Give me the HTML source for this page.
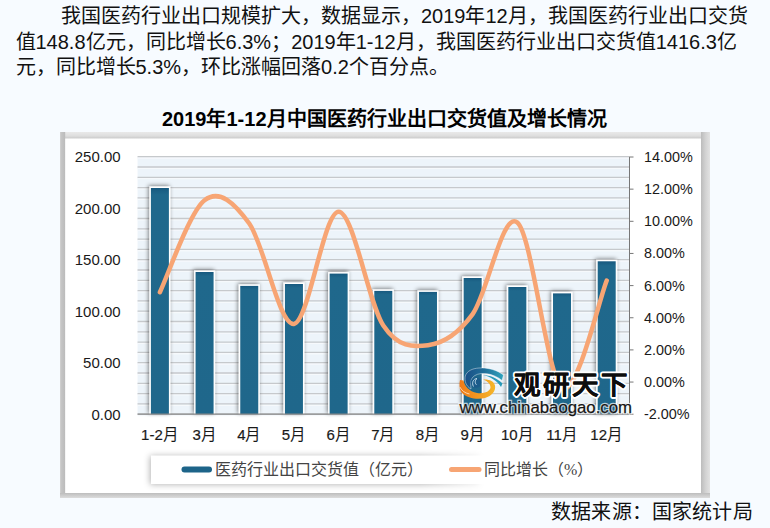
<!DOCTYPE html>
<html lang="zh-CN"><head><meta charset="utf-8">
<style>
html,body{margin:0;padding:0}
body{width:770px;height:528px;overflow:hidden;background:#f7fbff;position:relative;font-family:"Liberation Sans",sans-serif;color:#111}
.p{position:absolute;font-size:20px;line-height:26px;white-space:nowrap}
.t{position:absolute;font-size:20px;font-weight:bold;white-space:nowrap;line-height:26px;color:#000}
.src{position:absolute;font-size:20px;white-space:nowrap;line-height:26px}
svg{position:absolute;left:0;top:0}
.g{stroke:#c6c9cc;stroke-width:1.3}
.ax text{font-family:"Liberation Sans",sans-serif;font-size:14px;fill:#1a1a1a}
.lg{font-family:"Liberation Serif",serif;font-size:16px;fill:#444}
</style></head><body>
<div class="p" style="left:61px;top:3px">我国医药行业出口规模扩大，数据显示，2019年12月，我国医药行业出口交货</div>
<div class="p" style="left:15.5px;top:28.5px">值148.8亿元，同比增长6.3%；2019年1-12月，我国医药行业出口交货值1416.3亿</div>
<div class="p" style="left:15.5px;top:54px">元，同比增长5.3%，环比涨幅回落0.2个百分点。</div>
<div class="t" style="left:162px;top:105.8px">2019年1-12月中国医药行业出口交货值及增长情况</div>
<svg width="770" height="528" viewBox="0 0 770 528">
<defs>
<filter id="sh" x="-50%" y="-50%" width="200%" height="200%"><feGaussianBlur in="SourceAlpha" stdDeviation="2"/><feOffset dx="-1" dy="-1"/><feComponentTransfer><feFuncA type="linear" slope="0.5"/></feComponentTransfer><feMerge><feMergeNode/><feMergeNode in="SourceGraphic"/></feMerge></filter>
<filter id="fs" x="-5%" y="-5%" width="110%" height="110%"><feGaussianBlur in="SourceAlpha" stdDeviation="2.2"/><feComponentTransfer><feFuncA type="linear" slope="0.45"/></feComponentTransfer><feMerge><feMergeNode/><feMergeNode in="SourceGraphic"/></feMerge></filter>
<filter id="ls" x="-10%" y="-60%" width="120%" height="220%"><feGaussianBlur in="SourceAlpha" stdDeviation="3.5"/><feOffset dx="-1" dy="0.5"/><feComponentTransfer><feFuncA type="linear" slope="0.32"/></feComponentTransfer><feMerge><feMergeNode/><feMergeNode in="SourceGraphic"/></feMerge></filter>
<linearGradient id="bg" x1="0" y1="0" x2="0" y2="1"><stop offset="0" stop-color="#17597f"/><stop offset="0.03" stop-color="#1f688c"/><stop offset="1" stop-color="#1f678b"/></linearGradient>
<linearGradient id="lb" x1="0" y1="0" x2="1" y2="0"><stop offset="0" stop-color="#1a4f86"/><stop offset="0.5" stop-color="#1f6f9a"/><stop offset="1" stop-color="#2fa3bd"/></linearGradient>
<linearGradient id="lo" x1="0" y1="0" x2="1" y2="0"><stop offset="0" stop-color="#f07a18"/><stop offset="1" stop-color="#f5b62a"/></linearGradient>
<filter id="lb2" x="-10%" y="-60%" width="120%" height="220%"><feGaussianBlur stdDeviation="3.2"/></filter>
<linearGradient id="lmg" gradientUnits="userSpaceOnUse" x1="420" y1="0" x2="495" y2="0"><stop offset="0" stop-color="#fff"/><stop offset="1" stop-color="#000"/></linearGradient>
<mask id="lm" maskUnits="userSpaceOnUse" x="0" y="0" width="770" height="528"><rect x="0" y="0" width="770" height="528" fill="url(#lmg)"/></mask>
<linearGradient id="ft" x1="0" y1="0" x2="0" y2="1"><stop offset="0" stop-color="#e9e9e9"/><stop offset="0.6" stop-color="#dedede"/><stop offset="1" stop-color="#c9c9c9"/></linearGradient>
<linearGradient id="fl" x1="0" y1="0" x2="1" y2="0"><stop offset="0" stop-color="#d6d6d6"/><stop offset="0.2" stop-color="#c6c6c6"/><stop offset="1" stop-color="#bbbbbb"/></linearGradient>
<linearGradient id="fr2" x1="0" y1="0" x2="1" y2="0"><stop offset="0" stop-color="#bcbcbc"/><stop offset="0.5" stop-color="#d2d2d2"/><stop offset="1" stop-color="#e2e2e2"/></linearGradient>
<linearGradient id="fb" x1="0" y1="0" x2="0" y2="1"><stop offset="0" stop-color="#bdbdbd"/><stop offset="1" stop-color="#dcdcdc"/></linearGradient>
</defs>
<rect x="60" y="132" width="650" height="366" fill="#d2d2d2"/>
<rect x="60" y="132" width="650" height="6.5" fill="url(#ft)"/>
<rect x="60" y="132" width="5.2" height="366" fill="url(#fl)"/>
<rect x="701" y="132" width="9" height="366" fill="url(#fr2)"/>
<rect x="60" y="493" width="650" height="5" fill="url(#fb)"/>
<rect x="65.2" y="138.5" width="635.8" height="354.5" fill="#fff"/>
<rect x="137.56" y="156.7" width="491.48" height="257.50" fill="#edf4fa"/>
<line x1="137.56" x2="629.04" y1="415.50" y2="415.50" stroke="#f6f9fc" stroke-width="1.4"/><line x1="137.56" x2="629.04" y1="414.20" y2="414.20" class="g"/><line x1="137.56" x2="629.04" y1="405.20" y2="405.20" stroke="#f6f9fc" stroke-width="1.4"/><line x1="137.56" x2="629.04" y1="403.90" y2="403.90" class="g"/><line x1="137.56" x2="629.04" y1="394.90" y2="394.90" stroke="#f6f9fc" stroke-width="1.4"/><line x1="137.56" x2="629.04" y1="393.60" y2="393.60" class="g"/><line x1="137.56" x2="629.04" y1="384.60" y2="384.60" stroke="#f6f9fc" stroke-width="1.4"/><line x1="137.56" x2="629.04" y1="383.30" y2="383.30" class="g"/><line x1="137.56" x2="629.04" y1="374.30" y2="374.30" stroke="#f6f9fc" stroke-width="1.4"/><line x1="137.56" x2="629.04" y1="373.00" y2="373.00" class="g"/><line x1="137.56" x2="629.04" y1="364.00" y2="364.00" stroke="#f6f9fc" stroke-width="1.4"/><line x1="137.56" x2="629.04" y1="362.70" y2="362.70" class="g"/><line x1="137.56" x2="629.04" y1="353.70" y2="353.70" stroke="#f6f9fc" stroke-width="1.4"/><line x1="137.56" x2="629.04" y1="352.40" y2="352.40" class="g"/><line x1="137.56" x2="629.04" y1="343.40" y2="343.40" stroke="#f6f9fc" stroke-width="1.4"/><line x1="137.56" x2="629.04" y1="342.10" y2="342.10" class="g"/><line x1="137.56" x2="629.04" y1="333.10" y2="333.10" stroke="#f6f9fc" stroke-width="1.4"/><line x1="137.56" x2="629.04" y1="331.80" y2="331.80" class="g"/><line x1="137.56" x2="629.04" y1="322.80" y2="322.80" stroke="#f6f9fc" stroke-width="1.4"/><line x1="137.56" x2="629.04" y1="321.50" y2="321.50" class="g"/><line x1="137.56" x2="629.04" y1="312.50" y2="312.50" stroke="#f6f9fc" stroke-width="1.4"/><line x1="137.56" x2="629.04" y1="311.20" y2="311.20" class="g"/><line x1="137.56" x2="629.04" y1="302.20" y2="302.20" stroke="#f6f9fc" stroke-width="1.4"/><line x1="137.56" x2="629.04" y1="300.90" y2="300.90" class="g"/><line x1="137.56" x2="629.04" y1="291.90" y2="291.90" stroke="#f6f9fc" stroke-width="1.4"/><line x1="137.56" x2="629.04" y1="290.60" y2="290.60" class="g"/><line x1="137.56" x2="629.04" y1="281.60" y2="281.60" stroke="#f6f9fc" stroke-width="1.4"/><line x1="137.56" x2="629.04" y1="280.30" y2="280.30" class="g"/><line x1="137.56" x2="629.04" y1="271.30" y2="271.30" stroke="#f6f9fc" stroke-width="1.4"/><line x1="137.56" x2="629.04" y1="270.00" y2="270.00" class="g"/><line x1="137.56" x2="629.04" y1="261.00" y2="261.00" stroke="#f6f9fc" stroke-width="1.4"/><line x1="137.56" x2="629.04" y1="259.70" y2="259.70" class="g"/><line x1="137.56" x2="629.04" y1="250.70" y2="250.70" stroke="#f6f9fc" stroke-width="1.4"/><line x1="137.56" x2="629.04" y1="249.40" y2="249.40" class="g"/><line x1="137.56" x2="629.04" y1="240.40" y2="240.40" stroke="#f6f9fc" stroke-width="1.4"/><line x1="137.56" x2="629.04" y1="239.10" y2="239.10" class="g"/><line x1="137.56" x2="629.04" y1="230.10" y2="230.10" stroke="#f6f9fc" stroke-width="1.4"/><line x1="137.56" x2="629.04" y1="228.80" y2="228.80" class="g"/><line x1="137.56" x2="629.04" y1="219.80" y2="219.80" stroke="#f6f9fc" stroke-width="1.4"/><line x1="137.56" x2="629.04" y1="218.50" y2="218.50" class="g"/><line x1="137.56" x2="629.04" y1="209.50" y2="209.50" stroke="#f6f9fc" stroke-width="1.4"/><line x1="137.56" x2="629.04" y1="208.20" y2="208.20" class="g"/><line x1="137.56" x2="629.04" y1="199.20" y2="199.20" stroke="#f6f9fc" stroke-width="1.4"/><line x1="137.56" x2="629.04" y1="197.90" y2="197.90" class="g"/><line x1="137.56" x2="629.04" y1="188.90" y2="188.90" stroke="#f6f9fc" stroke-width="1.4"/><line x1="137.56" x2="629.04" y1="187.60" y2="187.60" class="g"/><line x1="137.56" x2="629.04" y1="178.60" y2="178.60" stroke="#f6f9fc" stroke-width="1.4"/><line x1="137.56" x2="629.04" y1="177.30" y2="177.30" class="g"/><line x1="137.56" x2="629.04" y1="168.30" y2="168.30" stroke="#f6f9fc" stroke-width="1.4"/><line x1="137.56" x2="629.04" y1="167.00" y2="167.00" class="g"/><line x1="137.56" x2="629.04" y1="158.00" y2="158.00" stroke="#f6f9fc" stroke-width="1.4"/><line x1="137.56" x2="629.04" y1="156.70" y2="156.70" class="g"/>
<rect x="149.40" y="186.50" width="21.00" height="227.70" fill="#fff" filter="url(#sh)"/><rect x="150.90" y="188.00" width="18.00" height="226.20" fill="url(#bg)"/><rect x="194.08" y="270.50" width="21.00" height="143.70" fill="#fff" filter="url(#sh)"/><rect x="195.58" y="272.00" width="18.00" height="142.20" fill="url(#bg)"/><rect x="238.76" y="284.40" width="21.00" height="129.80" fill="#fff" filter="url(#sh)"/><rect x="240.26" y="285.90" width="18.00" height="128.30" fill="url(#bg)"/><rect x="283.44" y="282.50" width="21.00" height="131.70" fill="#fff" filter="url(#sh)"/><rect x="284.94" y="284.00" width="18.00" height="130.20" fill="url(#bg)"/><rect x="328.12" y="272.10" width="21.00" height="142.10" fill="#fff" filter="url(#sh)"/><rect x="329.62" y="273.60" width="18.00" height="140.60" fill="url(#bg)"/><rect x="372.80" y="289.40" width="21.00" height="124.80" fill="#fff" filter="url(#sh)"/><rect x="374.30" y="290.90" width="18.00" height="123.30" fill="url(#bg)"/><rect x="417.48" y="290.40" width="21.00" height="123.80" fill="#fff" filter="url(#sh)"/><rect x="418.98" y="291.90" width="18.00" height="122.30" fill="url(#bg)"/><rect x="462.16" y="276.50" width="21.00" height="137.70" fill="#fff" filter="url(#sh)"/><rect x="463.66" y="278.00" width="18.00" height="136.20" fill="url(#bg)"/><rect x="506.84" y="285.50" width="21.00" height="128.70" fill="#fff" filter="url(#sh)"/><rect x="508.34" y="287.00" width="18.00" height="127.20" fill="url(#bg)"/><rect x="551.52" y="291.90" width="21.00" height="122.30" fill="#fff" filter="url(#sh)"/><rect x="553.02" y="293.40" width="18.00" height="120.80" fill="url(#bg)"/><rect x="596.20" y="259.80" width="21.00" height="154.40" fill="#fff" filter="url(#sh)"/><rect x="597.70" y="261.30" width="18.00" height="152.90" fill="url(#bg)"/>
<line x1="137.56" x2="629.04" y1="414.2" y2="414.2" stroke="#888" stroke-width="1.2"/>
<line x1="629.5" x2="629.5" y1="156.7" y2="414.2" stroke="#777" stroke-width="1"/>
<line x1="629.5" x2="633.5" y1="157.00" y2="157.00" stroke="#777" stroke-width="1"/><line x1="629.5" x2="633.5" y1="189.15" y2="189.15" stroke="#777" stroke-width="1"/><line x1="629.5" x2="633.5" y1="221.30" y2="221.30" stroke="#777" stroke-width="1"/><line x1="629.5" x2="633.5" y1="253.45" y2="253.45" stroke="#777" stroke-width="1"/><line x1="629.5" x2="633.5" y1="285.60" y2="285.60" stroke="#777" stroke-width="1"/><line x1="629.5" x2="633.5" y1="317.75" y2="317.75" stroke="#777" stroke-width="1"/><line x1="629.5" x2="633.5" y1="349.90" y2="349.90" stroke="#777" stroke-width="1"/><line x1="629.5" x2="633.5" y1="382.05" y2="382.05" stroke="#777" stroke-width="1"/><line x1="629.5" x2="633.5" y1="414.20" y2="414.20" stroke="#777" stroke-width="1"/>
<path d="M159.90,292.20 C167.35,276.87 189.69,211.65 204.58,200.20 C219.47,188.75 234.37,202.88 249.26,223.50 C264.15,244.12 279.05,325.87 293.94,323.90 C308.83,321.93 323.73,211.43 338.62,211.70 C353.51,211.97 368.41,303.25 383.30,325.50 C398.19,347.75 413.09,347.10 427.98,345.20 C442.87,343.30 457.77,334.55 472.66,314.10 C487.55,293.65 502.45,210.18 517.34,222.50 C532.23,234.82 547.13,378.32 562.02,388.00 C576.91,397.68 599.25,298.50 606.70,280.60" fill="none" stroke="#f7a574" stroke-width="4.5" stroke-linecap="round"/>
<g transform="translate(455,362)">
<path d="M48.5,13 C42,8 33,5.5 24,6 C17,6.5 12,9 10.3,14 C9.3,19 11,24 16,27 C15.5,22 15.5,18 17.5,15.5 C20,12.5 24.5,11.2 30,11.5 C37,12 43,15 47,18.5 Z" fill="url(#lb)" stroke="#fff" stroke-width="0.6" stroke-opacity="0.7"/>
<path d="M46,25 C42,19 36,14.8 28,13 C35,13.2 42,16 47.5,21.5 Z" fill="#2a9ab9"/>
<circle cx="21" cy="20.5" r="5.2" fill="#1b5b8a"/>
<path d="M18.5,24.5 C16.5,21 18,16.8 22,16.5 C20,18 19.5,21 21.5,22.8" fill="none" stroke="#cfe6f2" stroke-width="0.9"/>
<path d="M5,18 L8.5,18.5 C9.5,24 14,29.5 22,31 C29,32 35,29.5 35.5,25.5 C35.5,22 33,19.5 28,17.5 C34,17 39,19 40,23.5 C41,29 37,34 30,36 C22,38 12,36 7,31 C4.5,28 4,23 5,18 Z" fill="url(#lo)"/>
<path d="M4.8,25 C7,29 10,31 14.5,32" fill="none" stroke="#fff" stroke-width="0.8" stroke-opacity="0.8"/>
</g>
<text x="514" y="394" font-size="26.5" font-weight="900" fill="#fff" stroke="#fff" stroke-width="4" stroke-linejoin="round" letter-spacing="2.9" style="font-family:'Liberation Sans',sans-serif">观研天下</text>
<text x="514" y="394" font-size="26.5" font-weight="900" fill="#0d0d0d" stroke="#0d0d0d" stroke-width="0.25" stroke-linejoin="round" letter-spacing="2.9" style="font-family:'Liberation Sans',sans-serif">观研天下</text>
<text x="459.5" y="412.5" font-size="16.8" fill="#fff" stroke="#fff" stroke-width="2.5" stroke-opacity="0.7" style="font-family:'Liberation Sans',sans-serif">www.chinabaogao.com</text>
<text x="459.5" y="412.5" font-size="16.8" fill="#151515" stroke="#151515" stroke-width="0.25" style="font-family:'Liberation Sans',sans-serif">www.chinabaogao.com</text>
<g class="ax"><text x="120.6" y="162.0" text-anchor="end" style="font-size:15px">250.00</text><text x="120.6" y="213.5" text-anchor="end" style="font-size:15px">200.00</text><text x="120.6" y="265.1" text-anchor="end" style="font-size:15px">150.00</text><text x="120.6" y="316.6" text-anchor="end" style="font-size:15px">100.00</text><text x="120.6" y="368.1" text-anchor="end" style="font-size:15px">50.00</text><text x="120.6" y="419.6" text-anchor="end" style="font-size:15px">0.00</text><text x="644" y="162.0" style="font-size:14.4px">14.00%</text><text x="644" y="194.2" style="font-size:14.4px">12.00%</text><text x="644" y="226.3" style="font-size:14.4px">10.00%</text><text x="644" y="258.4" style="font-size:14.4px">8.00%</text><text x="644" y="290.6" style="font-size:14.4px">6.00%</text><text x="644" y="322.8" style="font-size:14.4px">4.00%</text><text x="644" y="354.9" style="font-size:14.4px">2.00%</text><text x="644" y="387.0" style="font-size:14.4px">0.00%</text><text x="644" y="419.2" style="font-size:14.4px">-2.00%</text><text x="159.9" y="440.2" text-anchor="middle" style="font-size:15.5px"><tspan style="font-size:15px" stroke="#1a1a1a" stroke-width="0.2">1-2</tspan>月</text><text x="204.6" y="440.2" text-anchor="middle" style="font-size:15.5px"><tspan style="font-size:15px" stroke="#1a1a1a" stroke-width="0.2">3</tspan>月</text><text x="249.3" y="440.2" text-anchor="middle" style="font-size:15.5px"><tspan style="font-size:15px" stroke="#1a1a1a" stroke-width="0.2">4</tspan>月</text><text x="293.9" y="440.2" text-anchor="middle" style="font-size:15.5px"><tspan style="font-size:15px" stroke="#1a1a1a" stroke-width="0.2">5</tspan>月</text><text x="338.6" y="440.2" text-anchor="middle" style="font-size:15.5px"><tspan style="font-size:15px" stroke="#1a1a1a" stroke-width="0.2">6</tspan>月</text><text x="383.3" y="440.2" text-anchor="middle" style="font-size:15.5px"><tspan style="font-size:15px" stroke="#1a1a1a" stroke-width="0.2">7</tspan>月</text><text x="428.0" y="440.2" text-anchor="middle" style="font-size:15.5px"><tspan style="font-size:15px" stroke="#1a1a1a" stroke-width="0.2">8</tspan>月</text><text x="472.7" y="440.2" text-anchor="middle" style="font-size:15.5px"><tspan style="font-size:15px" stroke="#1a1a1a" stroke-width="0.2">9</tspan>月</text><text x="517.3" y="440.2" text-anchor="middle" style="font-size:15.5px"><tspan style="font-size:15px" stroke="#1a1a1a" stroke-width="0.2">10</tspan>月</text><text x="562.0" y="440.2" text-anchor="middle" style="font-size:15.5px"><tspan style="font-size:15px" stroke="#1a1a1a" stroke-width="0.2">11</tspan>月</text><text x="606.7" y="440.2" text-anchor="middle" style="font-size:15.5px"><tspan style="font-size:15px" stroke="#1a1a1a" stroke-width="0.2">12</tspan>月</text></g>
<g mask="url(#lm)"><rect x="150" y="456" width="330" height="28.5" fill="#000" fill-opacity="0.3" filter="url(#lb2)"/></g>
<rect x="151" y="455.5" width="400" height="28.5" fill="#fff"/>
<line x1="184.5" x2="209" y1="469.5" y2="469.5" stroke="#1d6489" stroke-width="6" stroke-linecap="round"/>
<text x="215" y="475" class="lg">医药行业出口交货值（亿元）</text>
<line x1="451.5" x2="479" y1="469.5" y2="469.5" stroke="#f7a574" stroke-width="5" stroke-linecap="round"/>
<text x="484" y="475" class="lg">同比增长（%）</text>
</svg>
<div class="src" style="left:551.2px;top:499px;letter-spacing:0.15px">数据来源：国家统计局</div>
</body></html>
